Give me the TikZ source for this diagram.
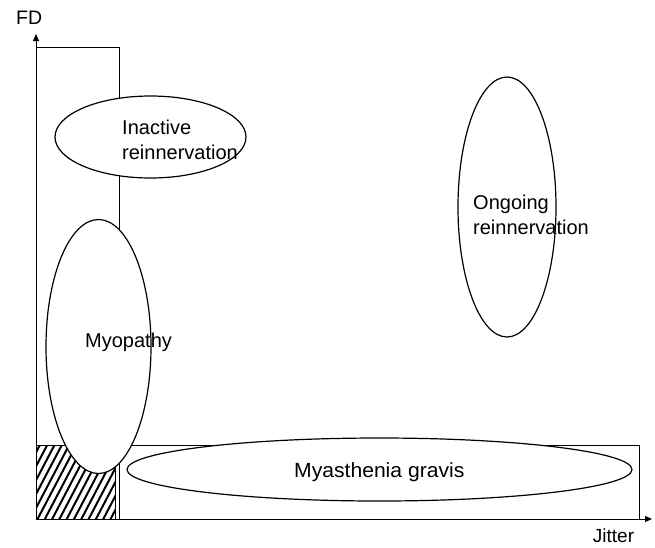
\documentclass[tikz,border=0pt]{standalone}
\usepackage{fontspec}
\setmainfont{Liberation Sans}
\usetikzlibrary{shapes.geometric,arrows.meta}
\begin{document}
\begin{tikzpicture}[x=1pt,y=-1pt,
  region/.style={ellipse,draw,fill=white,line width=1.2pt,inner sep=0pt},
  label/.style={inner sep=0pt,anchor=base west,align=left,
    font=\fontsize{20}{25.5}\selectfont},
  zone/.style={draw,line width=0.9pt},
  axis/.style={line width=1pt,-{Triangle[length=7pt,width=6pt]}}]
\useasboundingbox (0,0) rectangle (655,547);

% boxes behind the ellipses
\draw[zone] (36,47) rectangle (119,519);
\draw[zone] (36,445) rectangle (639,519);

% hatched corner
\begin{scope}
  \clip (36,445) rectangle (115,519);
  \foreach \i in {-6,...,12}
    \draw[line width=2pt] ({36+7.3*\i},522) -- ++(42,-80);
\end{scope}
\draw[zone] (36,445) rectangle (115,519);

% diagnostic regions
\node[region,minimum width=191pt,minimum height=82pt] (inact) at (150.5,137) {};
\node[region,minimum width=98pt,minimum height=260pt] (ongo) at (507,207) {};
\node[region,minimum width=105pt,minimum height=254pt] (myop) at (98.5,346.5) {};
\node[region,minimum width=505pt,minimum height=63pt] (mg) at (379.5,469.5) {};

% two-line labels are placed by the baseline of their last line
\node[label] (tinact) at (122,159.5) {Inactive\\reinnervation};
\node[label] (tongo) at (473,234.5) {Ongoing\\reinnervation};
\node[label] (tmyop) at (85,347) {Myopathy};
\node[label,font=\fontsize{20.5}{25}\selectfont,xscale=1.03] (tmg) at (294,477) {Myasthenia gravis};

% axes
\coordinate (o) at (36,519);
\coordinate (ytop) at (36,34);
\coordinate (xend) at (652,519);
\draw[axis] (o) -- (ytop);
\draw[axis] (o) -- (xend);
\node[label,font=\fontsize{19.5}{24}\selectfont] (fd) at (16,24.3) {FD};
\node[label,font=\fontsize{19}{24}\selectfont] (jit) at (592.7,542.7) {Jitter};
\end{tikzpicture}
\end{document}
